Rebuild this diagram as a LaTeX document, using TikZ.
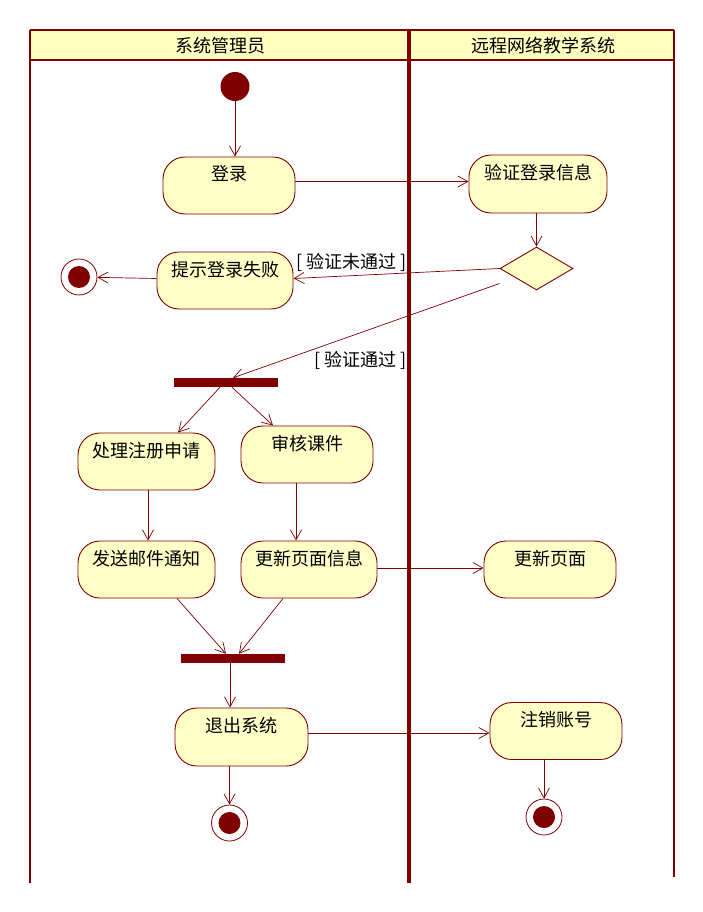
\documentclass[tikz,border=0pt]{standalone}
\usepackage{fontspec}
\newfontfamily\cjk{Noto Sans CJK SC}
\usetikzlibrary{shapes.geometric,arrows.meta}
\definecolor{dred}{RGB}{128,0,0}
\definecolor{ylw}{RGB}{255,255,200}
\definecolor{hdr}{RGB}{255,255,192}
\tikzset{
  txt/.style={font=\cjk\fontsize{18}{21}\selectfont, text=black},
  act/.style 2 args={txt, draw=dred, fill=ylw, line width=0.9pt, rounded corners=22pt,
    inner xsep=0pt, inner ysep=0pt, minimum width=#1, text height=24pt, text depth=#2},
  bar/.style={fill=dred, draw=none, inner sep=0pt, minimum height=9pt, minimum width=104pt},
  initst/.style={circle, fill=dred, inner sep=0pt, minimum size=29pt},
  finalst/.style={circle, draw=dred, fill=white, line width=0.8pt, inner sep=0pt, minimum size=36pt,
    path picture={\fill[dred] (path picture bounding box.center) circle (11pt);}},
  decis/.style={diamond, draw=dred, fill=ylw, line width=0.9pt, inner sep=0pt, aspect=1.7,
    minimum width=73pt, minimum height=43pt},
  flow/.style={draw=dred, line width=0.7pt, -{Straight Barb[length=10pt,width=11pt]}},
  guard/.style={txt, inner sep=0pt},
  lane/.style={draw=dred, line width=2.5pt},
}
\begin{document}
\begin{tikzpicture}[x=1pt, y=-1pt]
\useasboundingbox[fill=white] (0,0) rectangle (703,912);
% swimlanes
\fill[hdr] (30,30) rectangle (674,60);
\draw[dred, line width=2pt] (30,30) -- (674,30);
\draw[dred, line width=2pt] (30,60) -- (674,60);
\draw[lane] (30,30) -- (30,883);
\draw[lane, line width=3.5pt] (409,30) -- (409,883);
\draw[lane] (674,30) -- (674,877);
\node[txt] (h1) at (220,46) {系统管理员};
\node[txt] (h2) at (543,46) {远程网络教学系统};
% nodes
\node[initst] (ini) at (235,86.5) {};
\node[act={132pt}{33pt}] (dl) at (229,185.5) {登录};
\node[act={138pt}{34pt}] (yz) at (538,184) {验证登录信息};
\node[decis] (dm) at (536.5,268.5) {};
\node[act={136pt}{33pt}] (ts) at (225,280.5) {提示登录失败};
\node[finalst] (f1) at (79,277) {};
\node[bar] (fk1) at (226,382.5) {};
\node[act={137pt}{33pt}] (cl) at (146.5,461.5) {处理注册申请};
\node[act={132pt}{33pt}] (sh) at (307,454.5) {审核课件};
\node[act={137pt}{33pt}] (fs) at (146.5,569.5) {发送邮件通知};
\node[act={136pt}{33pt}] (gx) at (309,569.5) {更新页面信息};
\node[act={132pt}{33pt}] (gy) at (550,569.5) {更新页面};
\node[bar] (jn) at (233,658.5) {};
\node[act={133pt}{34pt}] (tc) at (241.5,737) {退出系统};
\node[act={132pt}{33pt}] (zx) at (556,731) {注销账号};
\node[finalst] (f2) at (229.5,823) {};
\node[finalst] (f3) at (544,817) {};
% flows
\draw[flow] (ini) -- (ini |- dl.north);
\draw[flow] ([yshift=4pt]dl.east) -- ([yshift=4pt]dl.east -| yz.west);
\draw[flow] (yz.south -| dm.north) -- (dm.north);
\draw[flow] (dm.west) -- ([yshift=2pt]ts.east)
  node[guard, pos=0.72, yshift=13.5pt] (g1) {[ 验证未通过 ]};
\draw[flow] ([yshift=2pt]ts.west) -- (f1);
\draw[flow] ([yshift=-15pt]dm.west) -- ([xshift=7pt]fk1.north)
  node[guard, pos=0.52, yshift=-28pt] (g2) {[ 验证通过 ]};
\draw[flow] ([xshift=-6pt]fk1.south) -- ([xshift=31.5pt]cl.north);
\draw[flow] ([xshift=6pt]fk1.south) -- ([xshift=-34pt]sh.north);
\draw[flow] ([xshift=1.5pt]cl.south) -- ([xshift=1.5pt]fs.north);
\draw[flow] ([xshift=-11pt]sh.south) -- ([xshift=-11pt]sh.south |- gx.north);
\draw[flow] ([yshift=1.5pt]gx.east) -- ([yshift=1.5pt]gx.east -| gy.west);
\draw[flow] ([xshift=30.5pt]fs.south) -- ([xshift=-7pt]jn.north);
\draw[flow] ([xshift=-26pt]gx.south) -- ([xshift=6pt]jn.north);
\draw[flow] ([xshift=-3pt]jn.south) -- ([xshift=-3pt]jn.south |- tc.north);
\draw[flow] ([yshift=4pt]tc.east) -- ([yshift=4pt]tc.east -| zx.west);
\draw[flow] (f2 |- tc.south) -- (f2);
\draw[flow] (f3 |- zx.south) -- (f3);
\end{tikzpicture}
\end{document}
